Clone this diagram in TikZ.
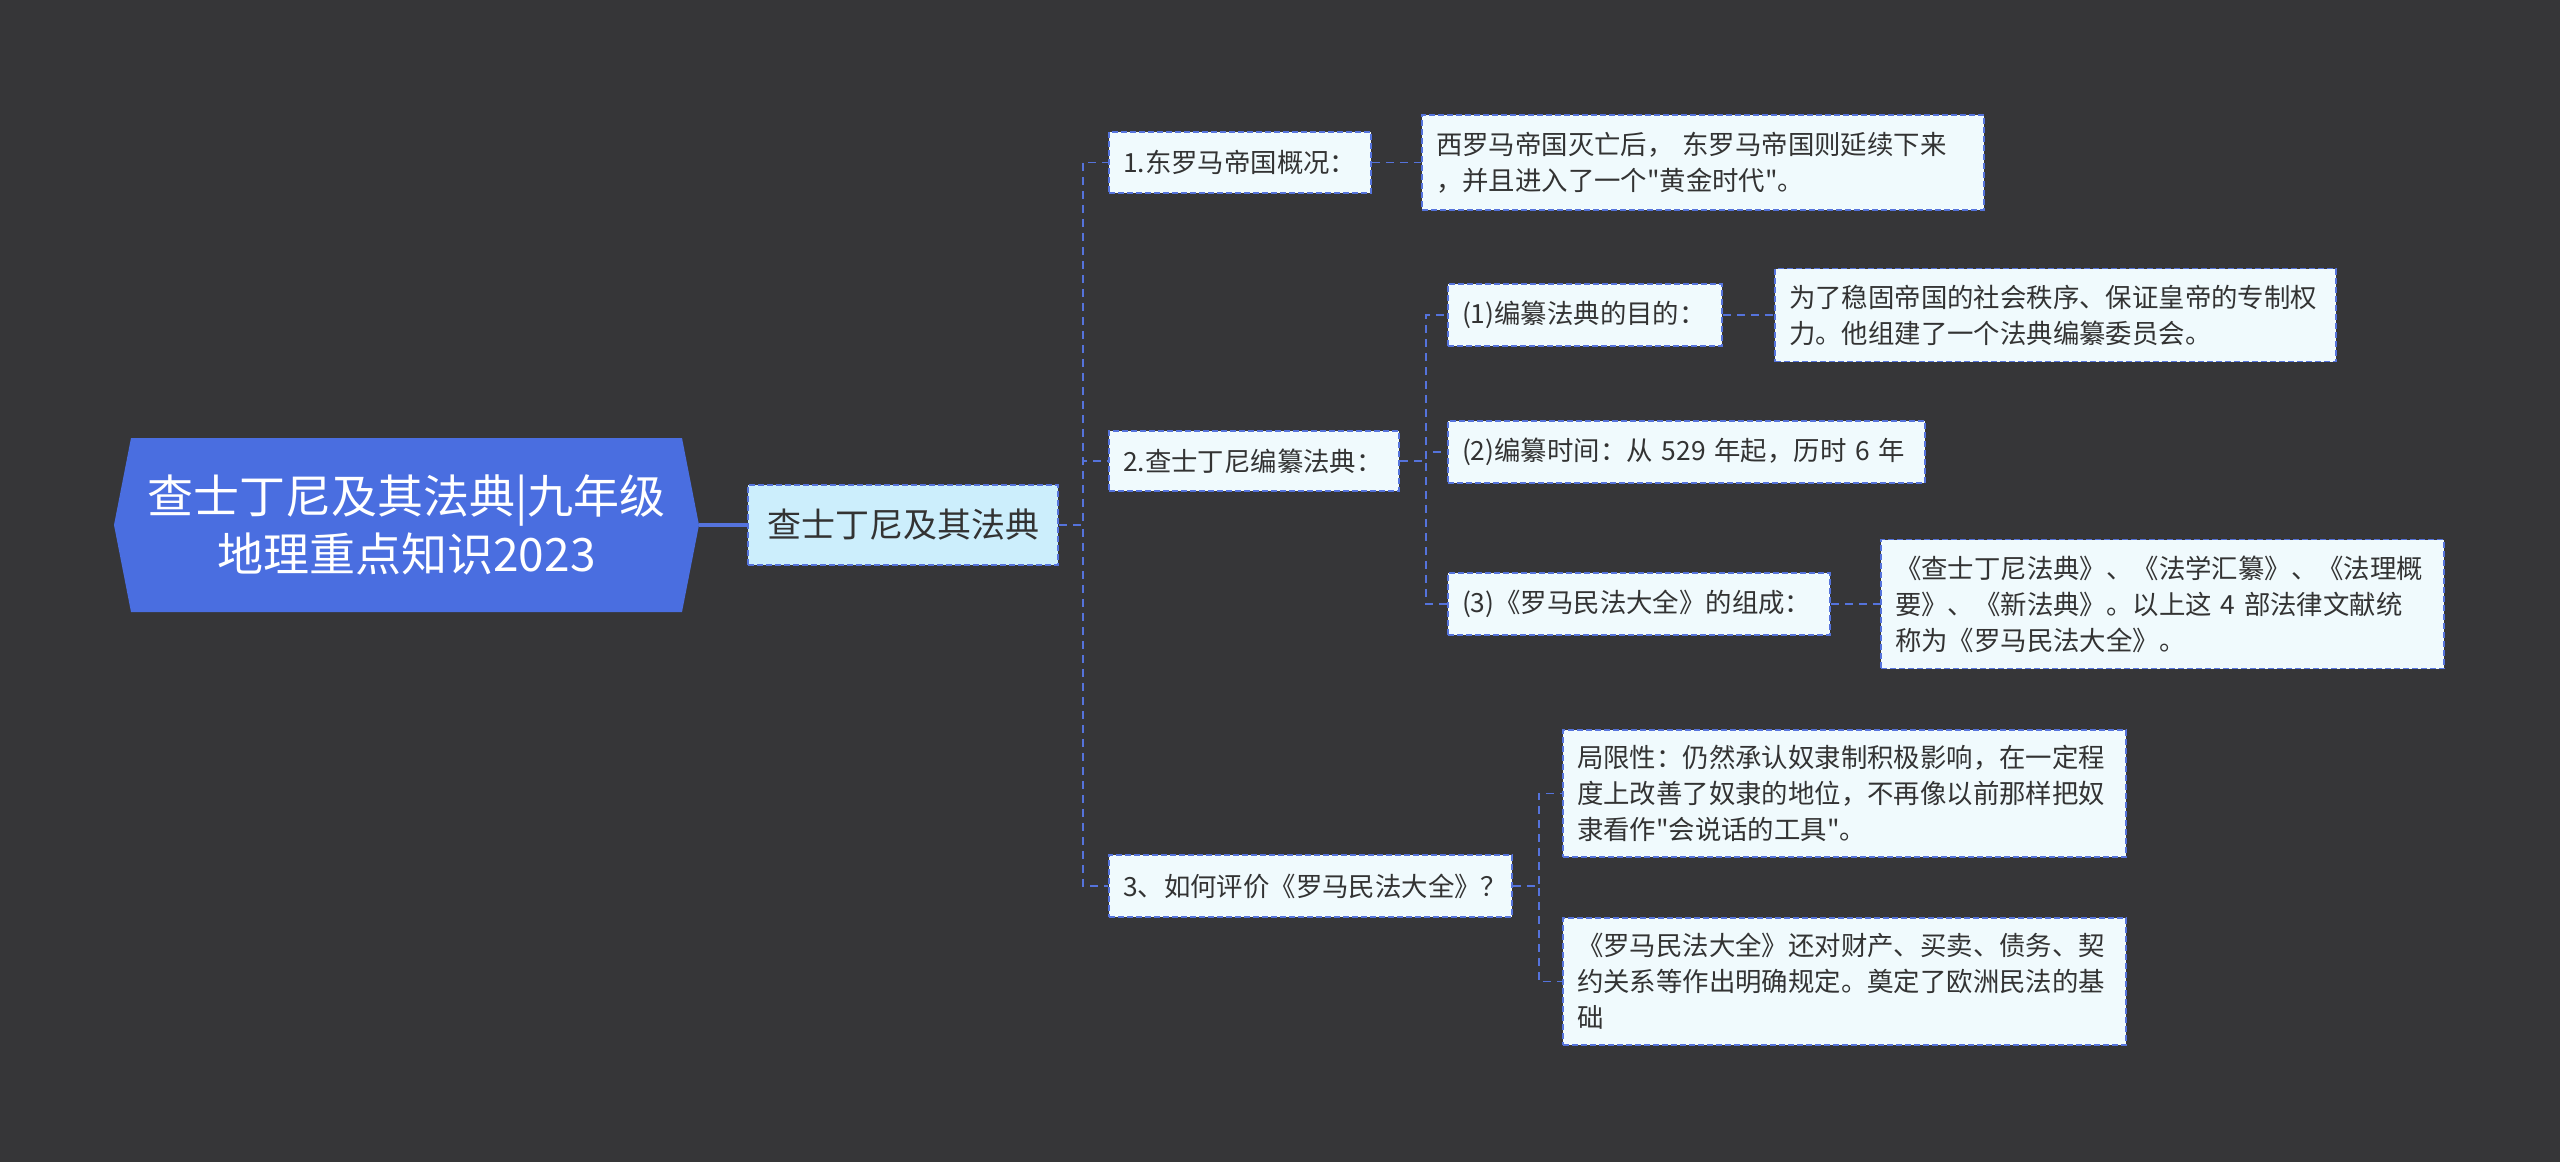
\documentclass[tikz,border=0pt]{standalone}
\usepackage{fontspec}
\setmainfont{Noto Sans CJK SC}[Ligatures=TeXOff]
\definecolor{bg}{HTML}{363638}
\definecolor{rootblue}{HTML}{4A6EE0}
\definecolor{edge}{HTML}{5573DC}
\definecolor{leaffill}{HTML}{F0FAFD}
\definecolor{mainfill}{HTML}{CCEEFC}
\definecolor{txt}{HTML}{333333}
\tikzset{
  box/.style={draw=edge, line width=0.8pt, dash pattern=on 3pt off 1.5pt, fill=leaffill,
    text=txt, font=\fontsize{13.2}{18}\selectfont, inner sep=0pt, inner xsep=7pt, align=left},
  link/.style={draw=edge, line width=0.8pt, dash pattern=on 4pt off 3pt},
  rootlink/.style={draw=edge, line width=1.6pt},
}
\begin{document}
\begin{tikzpicture}[x=0.5pt, y=-0.5pt]
\useasboundingbox (0,0) rectangle (2560,1162);
\fill[bg] (0,0) rectangle (2560,1162);
% root hexagon
\fill[rootblue] (114,525) -- (131,438) -- (682,438) -- (699,525) -- (682,612) -- (131,612) -- cycle;
\node[minimum width=292.5pt, minimum height=87pt, inner sep=0pt, align=center, text=white,
  font=\fontsize{23}{29}\selectfont] (root) at (406.5,525) {查士丁尼及其法典|九年级\\地理重点知识2023};
\node[box, fill=mainfill, minimum width=155pt, minimum height=40pt, align=center,
  font=\fontsize{17}{22}\selectfont] (main) at (903,525) {查士丁尼及其法典};

\node[box, text width=117pt, minimum height=30.5pt] (n1) at (1240,162.5) {1.东罗马帝国概况：};
\node[box, text width=267pt, minimum height=47.5pt] (n1a) at (1703,162.5) {西罗马帝国灭亡后， 东罗马帝国则延续下来\\，并且进入了一个"黄金时代"。};

\node[box, text width=131pt, minimum height=30pt] (n2) at (1254,461) {2.查士丁尼编纂法典：};
\node[box, text width=123pt, minimum height=31pt] (n2a) at (1585,315) {(1)编纂法典的目的：};
\node[box, text width=266.5pt, minimum height=46.5pt] (n2aa) at (2055.5,315) {为了稳固帝国的社会秩序、保证皇帝的专制权\\力。他组建了一个法典编纂委员会。};
\node[box, text width=224.5pt, minimum height=31pt] (n2b) at (1686.5,452) {(2)编纂时间：从 529 年起，历时 6 年};
\node[box, text width=177pt, minimum height=31pt] (n2c) at (1639,604) {(3)《罗马民法大全》的组成：};
\node[box, text width=267.5pt, minimum height=64.5pt] (n2ca) at (2162.5,604) {《查士丁尼法典》、《法学汇纂》、《法理概\\要》、《新法典》。以上这 4 部法律文献统\\称为《罗马民法大全》。};

\node[box, text width=187.5pt, minimum height=31pt] (n3) at (1310.5,886) {3、如何评价《罗马民法大全》？};
\node[box, text width=267.5pt, minimum height=63.5pt] (n3a) at (1844.5,793.5) {局限性：仍然承认奴隶制积极影响，在一定程\\度上改善了奴隶的地位，不再像以前那样把奴\\隶看作"会说话的工具"。};
\node[box, text width=267.5pt, minimum height=63.5pt] (n3b) at (1844.5,981.5) {《罗马民法大全》还对财产、买卖、债务、契\\约关系等作出明确规定。奠定了欧洲民法的基\\础};

% connectors
\draw[rootlink] (root.east) -- (main.west);
\draw[link] (main.east) -- ++(24,0) |- (n1.west);
\draw[link] (main.east) -- ++(24,0) |- (n2.west);
\draw[link] (main.east) -- ++(24,0) |- (n3.west);
\draw[link] (n1.east) -- (n1a.west);
\draw[link] (n2.east) -- ++(26,0) |- (n2a.west);
\draw[link] (n2.east) -- ++(26,0) |- (n2b.west);
\draw[link] (n2.east) -- ++(26,0) |- (n2c.west);
\draw[link] (n2a.east) -- (n2aa.west);
\draw[link] (n2c.east) -- (n2ca.west);
\draw[link] (n3.east) -- ++(26,0) |- (n3a.west);
\draw[link] (n3.east) -- ++(26,0) |- (n3b.west);
\end{tikzpicture}
\end{document}
